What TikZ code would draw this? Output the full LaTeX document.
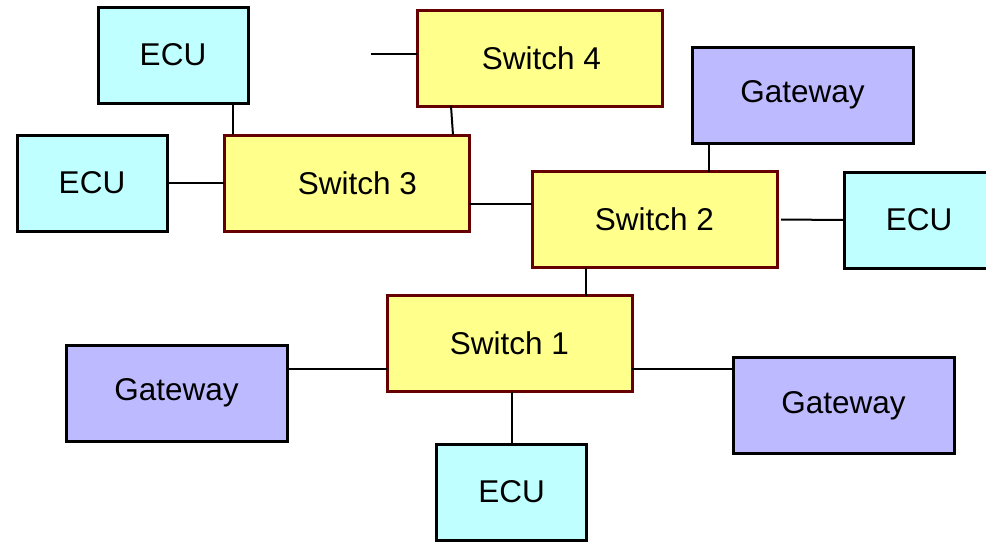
\documentclass[tikz,border=0pt]{standalone}
\usepackage{fontspec}
\setmainfont{Liberation Sans}
\usetikzlibrary{positioning}

\definecolor{ecufill}{RGB}{192,255,255}
\definecolor{swfill}{RGB}{255,255,140}
\definecolor{swline}{RGB}{102,0,0}
\definecolor{gwfill}{RGB}{190,186,255}

\tikzset{
	box/.style={draw, line width=3pt, outer sep=0pt, minimum height=96pt,
		font=\fontsize{31.5}{38}\selectfont},
	ecu/.style={box, fill=ecufill, minimum width=150pt},
	switch/.style={box, draw=swline, fill=swfill, minimum width=245pt},
	gateway/.style={box, fill=gwfill, minimum width=221pt},
	link/.style={line width=2pt}
}

\begin{document}
\begin{tikzpicture}[x=1pt, y=-1pt]
	\useasboundingbox (0, 0) rectangle (986, 542);

	% switches
	\node[switch] (sw4) at (539.5, 58) {\hspace*{4pt}Switch 4};
	\node[switch] (sw3) at (346.5, 183) {\hspace*{22pt}Switch 3};
	\node[switch] (sw2) at (654.5, 219.5) {Switch 2};
	\node[switch] (sw1) at (509.5, 343.5) {Switch 1};

	% end nodes
	\node[ecu] (ecuA) at (173, 55) {ECU};
	\node[ecu] (ecuB) at (92, 183) {ECU};
	\node[ecu] (ecuC) at (919, 220) {ECU};
	\node[ecu] (ecuD) at (511.5, 492) {ECU};
	\node[gateway] (gwA) at (802.5, 95) {Gateway};
	\node[gateway] (gwB) at (176.5, 393) {Gateway};
	\node[gateway] (gwC) at (843.5, 405.5) {Gateway};

	% links
	\coordinate (stub) at (371, 54);
	\draw[link] (stub) -- (stub -| sw4.west);
	\draw[link] ([xshift=34pt]sw4.south west) -- ([xshift=229pt]sw3.north west);
	\draw[link] ([xshift=-15pt]ecuA.south east) coordinate (a) -- (a |- sw3.north);
	\draw[link] (ecuB.east) -- (sw3.west);
	\draw[link] ([yshift=-21pt]sw3.east) coordinate (b) -- (b -| sw2.west);
	\draw[link] ([xshift=17pt]gwA.south west) coordinate (c) -- (c |- sw2.north);
	\draw[link] ([xshift=4pt]sw2.east) -- (ecuC.west);
	\draw[link] ([xshift=54pt]sw2.south west) coordinate (d) -- (d |- sw1.north);
	\draw[link] ([yshift=24pt]gwB.east) coordinate (e) -- (e -| sw1.west);
	\draw[link] ([yshift=-25.5pt]sw1.east) coordinate (f) -- (f -| gwC.west);
	\draw[link] (ecuD.north) -- (ecuD.north |- sw1.south);
\end{tikzpicture}
\end{document}
